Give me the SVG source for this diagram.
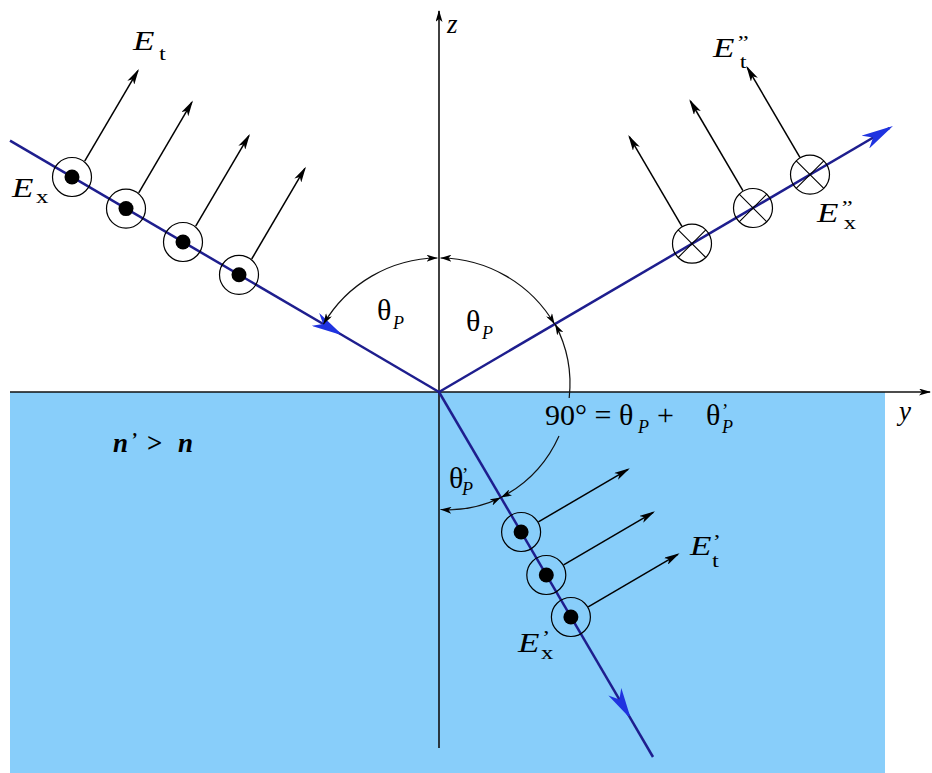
<svg xmlns="http://www.w3.org/2000/svg" width="932" height="773" viewBox="0 0 932 773">
<style>
.ray{stroke:#1e1e8e;stroke-width:2.5;fill:none}
.ax{stroke:#111;stroke-width:1.6;fill:none}
.arc{stroke:#111;stroke-width:1.2;fill:none;marker-start:url(#sa);marker-end:url(#sa)}
.ef{stroke:#000;stroke-width:1.5;fill:none;marker-end:url(#ea)}
.ring{stroke:#000;stroke-width:1.2;fill:none}
.dot{fill:#000}
.x{stroke:#000;stroke-width:1.1}
.E{font-family:"Liberation Serif",serif;font-style:italic;font-size:27px;fill:#000}
.sub{font-family:"Liberation Serif",serif;font-style:normal;font-size:19px}
.pr{font-family:"Liberation Serif",serif;font-style:normal;font-size:19px}
.th{font-family:"Liberation Serif",serif;font-size:30px;fill:#000}
.P{font-family:"Liberation Serif",serif;font-style:italic;font-size:18px}
</style>
<defs>
<marker id="ba" markerUnits="userSpaceOnUse" viewBox="0 0 32 15" markerWidth="32" markerHeight="15" refX="28" refY="7.5" orient="auto">
<path d="M0,0 L32,7.5 L0,15 L9,7.5 Z" fill="#1f33e0"/>
</marker>
<marker id="ea" markerUnits="userSpaceOnUse" viewBox="0 0 16 8" markerWidth="16" markerHeight="8" refX="14" refY="4" orient="auto">
<path d="M0,0 L16,4 L0,8 L4,4 Z" fill="#000"/>
</marker>
<marker id="sa" markerUnits="userSpaceOnUse" viewBox="0 0 11 7" markerWidth="11" markerHeight="7" refX="11" refY="3.5" orient="auto-start-reverse">
<path d="M0,0 L11,3.5 L0,7 L3,3.5 Z" fill="#000"/>
</marker>
<marker id="axa" markerUnits="userSpaceOnUse" viewBox="0 0 12 7" markerWidth="12" markerHeight="7" refX="11" refY="3.5" orient="auto">
<path d="M0,0 L12,3.5 L0,7 L3,3.5 Z" fill="#000"/>
</marker>
</defs>

<rect id="medium" x="10" y="392" width="875" height="381" fill="#88cefa"/>

<g id="connectors">
  <path class="ax" d="M10,392 L930,392" marker-end="url(#axa)"/>
  <path class="ax" d="M439,748 L439,11" marker-end="url(#axa)"/>
  <path class="ray" d="M10,140.6 L339.5,333.5" marker-end="url(#ba)"/>
  <path class="ray" d="M339.5,333.5 L439,392"/>
  <path class="ray" d="M439,392 L889.5,128" marker-end="url(#ba)"/>
  <path class="ray" d="M439,392 L629,715.9" marker-end="url(#ba)"/>
  <path class="ray" d="M629,715.9 L653,757"/>
  <path class="arc" d="M323.4,324.3 A134,134 0 0 1 437.5,258"/>
  <path class="arc" d="M440.5,258 A134,134 0 0 1 554.6,324.3"/>
  <path class="arc" d="M555.1,324.1 A128,128 0 0 1 569.2,398" style="marker-end:none"/>
  <path class="arc" d="M559,436 A128,128 0 0 1 500.9,497.5" style="marker-start:none"/>
  <path class="arc" d="M440.5,509.5 A118,118 0 0 0 500.9,497.5"/>
  <path class="ef" d="M84.7,161.2 L137.9,70.6"/>
  <path class="ef" d="M138.7,192.8 L191.9,102.2"/>
  <path class="ef" d="M195.7,226.2 L248.9,135.6"/>
  <path class="ef" d="M251.7,259 L304.9,168.4"/>
  <path class="ef" d="M681.9,226.4 L629.3,136.7"/>
  <path class="ef" d="M742.9,190.7 L690.3,101"/>
  <path class="ef" d="M799.9,157.3 L747.3,67.6"/>
  <path class="ef" d="M538.4,521.9 L628.1,469.3"/>
  <path class="ef" d="M563.6,564.9 L653.3,512.3"/>
  <path class="ef" d="M588.2,606.9 L677.9,554.3"/>
</g>

<g id="incident-1"><circle class="ring" cx="72" cy="177" r="19.5"/><circle class="dot" cx="72" cy="177" r="7.5"/></g>
<g id="incident-2"><circle class="ring" cx="126" cy="208.6" r="19.5"/><circle class="dot" cx="126" cy="208.6" r="7.5"/></g>
<g id="incident-3"><circle class="ring" cx="183" cy="242" r="19.5"/><circle class="dot" cx="183" cy="242" r="7.5"/></g>
<g id="incident-4"><circle class="ring" cx="239" cy="274.8" r="19.5"/><circle class="dot" cx="239" cy="274.8" r="7.5"/></g>

<g id="reflected-1"><circle class="ring" cx="692" cy="243.7" r="19.5"/><path class="x" d="M678.2,229.9 L705.8,257.5 M678.2,257.5 L705.8,229.9"/></g>
<g id="reflected-2"><circle class="ring" cx="753" cy="208" r="19.5"/><path class="x" d="M739.2,194.2 L766.8,221.8 M739.2,221.8 L766.8,194.2"/></g>
<g id="reflected-3"><circle class="ring" cx="810" cy="174.6" r="19.5"/><path class="x" d="M796.2,160.8 L823.8,188.4 M796.2,188.4 L823.8,160.8"/></g>

<g id="refracted-1"><circle class="ring" cx="521.1" cy="532" r="19.5"/><circle class="dot" cx="521.1" cy="532" r="7.5"/></g>
<g id="refracted-2"><circle class="ring" cx="546.3" cy="575" r="19.5"/><circle class="dot" cx="546.3" cy="575" r="7.5"/></g>
<g id="refracted-3"><circle class="ring" cx="570.9" cy="617" r="19.5"/><circle class="dot" cx="570.9" cy="617" r="7.5"/></g>

<g id="labels">
  <text class="E" x="447" y="33">z</text>
  <text class="E" x="899" y="420">y</text>
  <text class="E" transform="translate(133,50) scale(1.3,1)" x="0" y="0">E<tspan class="sub" x="20" y="10">t</tspan></text>
  <text class="E" transform="translate(12,197) scale(1.3,1)" x="0" y="0">E<tspan class="sub" x="18.5" y="6">x</tspan></text>
  <text class="E" transform="translate(713,57) scale(1.3,1)" x="0" y="0">E<tspan class="pr" x="19" y="-8">”</tspan><tspan class="sub" x="20.5" y="11">t</tspan></text>
  <text class="E" transform="translate(817,222) scale(1.3,1)" x="0" y="0">E<tspan class="pr" x="19" y="-8">”</tspan><tspan class="sub" x="20.5" y="7">x</tspan></text>
  <text class="E" transform="translate(690,555) scale(1.3,1)" x="0" y="0">E<tspan class="pr" x="17.5" y="-7">’</tspan><tspan class="sub" x="17" y="12">t</tspan></text>
  <text class="E" transform="translate(518,652) scale(1.3,1)" x="0" y="0">E<tspan class="pr" x="18.5" y="-8">’</tspan><tspan class="sub" x="17.7" y="7">x</tspan></text>

  <text class="th" x="377" y="320">θ<tspan class="P" x="393" y="329">P</tspan></text>
  <text class="th" x="466" y="331">θ<tspan class="P" x="482" y="339">P</tspan></text>

  <text class="th" x="545" y="425" font-size="29">90° = θ<tspan class="P" x="638" y="433">P</tspan><tspan x="657" y="425">+</tspan><tspan x="706" y="425">θ</tspan><tspan class="pr" x="722" y="417" font-size="17">’</tspan><tspan class="P" x="722" y="433">P</tspan></text>

  <text class="th" x="449" y="488" font-size="22">θ<tspan class="pr" x="462" y="481" font-size="14">’</tspan><tspan class="P" x="462" y="495" font-size="15">P</tspan></text>

  <text font-family="Liberation Serif, serif" font-weight="bold" font-style="italic" font-size="27" x="113" y="452">n<tspan x="131" y="446" font-size="18">’</tspan><tspan x="147" y="452" font-style="normal">&gt;</tspan><tspan x="178" y="452">n</tspan></text>
</g>
</svg>
